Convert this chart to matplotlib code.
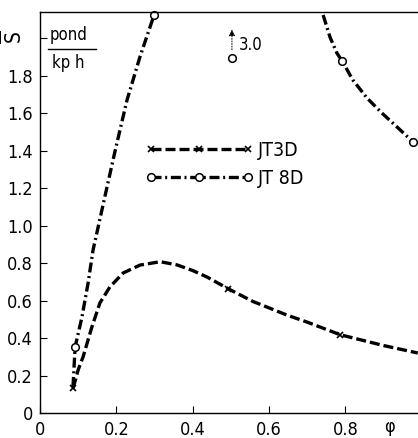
import matplotlib
matplotlib.use('Agg')
import matplotlib.pyplot as plt

# data (phi vs S-bar)
jt3d_x = [0.087, 0.10, 0.113, 0.136, 0.157, 0.183, 0.218, 0.262, 0.315, 0.359, 0.40, 0.438, 0.493, 0.558, 0.65, 0.70, 0.786, 0.90, 0.99]
jt3d_y = [0.133, 0.23, 0.30, 0.459, 0.587, 0.672, 0.747, 0.789, 0.807, 0.79, 0.76, 0.725, 0.663, 0.595, 0.52, 0.485, 0.418, 0.36, 0.32]
jt3d_marks = [0, 12, 16]

jt8d_left_x = [0.0865, 0.092, 0.110, 0.126, 0.139, 0.168, 0.197, 0.228, 0.262, 0.299]
jt8d_left_y = [0.139, 0.352, 0.512, 0.693, 0.869, 1.136, 1.40, 1.669, 1.90, 2.123]
jt8d_left_marks = [1, 9]

jt8d_right_x = [0.742, 0.760, 0.778, 0.792, 0.820, 0.857, 0.896, 0.936, 0.978]
jt8d_right_y = [2.123, 2.005, 1.92, 1.877, 1.776, 1.68, 1.60, 1.525, 1.445]
jt8d_right_marks = [3, 8]

# off-scale point at phi=0.5 (value 3.0)
off_x, off_y, off_label = 0.503, 1.893, '3.0'

x_ticks = [0, 0.2, 0.4, 0.6, 0.8]
x_labels = ['0', '0.2', '0.4', '0.6', '0.8']
y_ticks = [0, 0.2, 0.4, 0.6, 0.8, 1.0, 1.2, 1.4, 1.6, 1.8, 2.0]
y_labels = ['0', '0.2', '0.4', '0.6', '0.8', '1.0', '1.2', '1.4', '1.6', '1.8', '']

plt.rcParams['font.family'] = ['DejaVu Sans']
plt.rcParams['font.stretch'] = 'condensed'
plt.rcParams['mathtext.fontset'] = 'dejavusans'

fig = plt.figure(figsize=(4.18, 4.38), dpi=100)
ax = fig.add_axes([40 / 418, 1 - 413 / 438, 377 / 418, 401 / 438])

lw = 2.4
ax.plot(jt3d_x, jt3d_y, color='black', lw=lw, dashes=(3.0, 1.2),
        marker='x', markersize=5, markeredgewidth=1.2, markevery=jt3d_marks,
        label='JT3D', clip_on=False)
ax.plot(jt8d_left_x, jt8d_left_y, color='black', lw=lw, dashes=(3.0, 1.1, 0.6, 1.1),
        marker='o', markersize=5.5, markerfacecolor='white', markeredgewidth=1.1,
        markevery=jt8d_left_marks, label='JT 8D', clip_on=False)
ax.plot(jt8d_right_x, jt8d_right_y, color='black', lw=lw, dashes=(3.0, 1.1, 0.6, 1.1),
        marker='o', markersize=5.5, markerfacecolor='white', markeredgewidth=1.1,
        markevery=jt8d_right_marks, clip_on=False)

# off-scale marker with arrow
ax.plot([off_x], [off_y], marker='o', markersize=5.5, markerfacecolor='white',
        markeredgecolor='black', markeredgewidth=1.1, ls='none')
ax.annotate('', xy=(off_x, 2.06), xytext=(off_x, off_y + 0.03),
            arrowprops=dict(arrowstyle='-|>', color='black', lw=0.7, ls=':',
                            mutation_scale=9))
ax.text(off_x + 0.018, 1.965, off_label, fontsize=12, va='center', ha='left')

ax.set_xlim(0, 0.988)
ax.set_ylim(0, 2.139)
ax.set_xticks(x_ticks)
ax.set_xticklabels(x_labels)
ax.set_yticks(y_ticks)
ax.set_yticklabels(y_labels)
ax.tick_params(direction='in', length=5, width=0.8, labelsize=13, pad=5)
ax.tick_params(axis='x', pad=6)
ax.spines['right'].set_visible(False)
for s in ['left', 'bottom', 'top']:
    ax.spines[s].set_linewidth(1.0)

# axis symbols and unit
fig.text(13 / 418, 1 - 37 / 438, r'$\overline{\mathrm{S}}$', rotation=90,
         fontsize=15, ha='center', va='center')
ax.text(0.917, -0.036, 'φ', transform=ax.get_xaxis_transform(), fontsize=13,
        ha='center', va='center')
ax.text(0.075, 1 - 23 / 401, 'pond', transform=ax.transAxes, fontsize=12,
        ha='center', va='center')
ax.text(0.075, 1 - 51 / 401, 'kp h', transform=ax.transAxes, fontsize=12,
        ha='center', va='center')
ax.plot([0.02, 0.148], [1 - 37 / 401] * 2, transform=ax.transAxes, color='black',
        lw=1.0, clip_on=False)

ax.legend(loc='upper left', bbox_to_anchor=(0.278, 0.678), frameon=False,
          fontsize=14, handlelength=5.6, handletextpad=0.2, numpoints=3,
          borderpad=0, borderaxespad=0, labelspacing=0.45)

fig.savefig('out.png', dpi=100)
